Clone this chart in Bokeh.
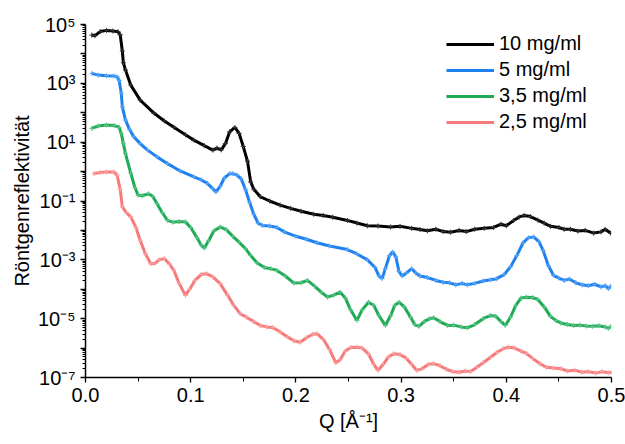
import numpy as np
from bokeh.plotting import figure
from bokeh.models import (FixedTicker, CustomJSTickFormatter, Legend, LegendItem,
                          Range1d, ColumnDataSource)
from bokeh.embed import file_html
from bokeh.resources import INLINE

# ---------------- data (Q in 1/Angstrom, reflectivity as log10) ----------------
q_10 = [0.006, 0.009, 0.014, 0.020, 0.026, 0.031, 0.033, 0.035, 0.036, 0.038, 0.043, 0.052,
        0.065, 0.075, 0.084, 0.095, 0.103, 0.113, 0.121, 0.125, 0.129, 0.133, 0.137, 0.142,
        0.146, 0.150, 0.154, 0.157, 0.160, 0.166, 0.175, 0.185, 0.195, 0.205, 0.217, 0.226,
        0.235, 0.249, 0.258, 0.268, 0.278, 0.290, 0.299, 0.310, 0.318, 0.325, 0.333, 0.340,
        0.347, 0.355, 0.362, 0.370, 0.379, 0.388, 0.395, 0.400, 0.407, 0.412, 0.417, 0.423,
        0.430, 0.436, 0.442, 0.450, 0.455, 0.461, 0.468, 0.475, 0.483, 0.490, 0.494, 0.499]
logr_10 = [4.64, 4.62, 4.76, 4.80, 4.78, 4.75, 4.65, 4.10, 3.70, 3.45, 2.94, 2.43,
           1.99, 1.72, 1.51, 1.25, 1.07, 0.88, 0.73, 0.80, 0.74, 0.95, 1.35, 1.50,
           1.30, 0.85, 0.35, -0.35, -0.60, -0.85, -1.00, -1.14, -1.25, -1.35, -1.45, -1.49,
           -1.55, -1.66, -1.75, -1.84, -1.85, -1.88, -1.86, -1.93, -1.97, -2.01, -1.96, -2.04,
           -2.06, -2.00, -2.04, -1.96, -1.93, -1.90, -1.79, -1.84, -1.66, -1.55, -1.49, -1.53,
           -1.65, -1.75, -1.86, -1.90, -1.96, -1.96, -2.02, -2.00, -2.09, -2.05, -1.96, -2.09]

q_5 = [0.006, 0.012, 0.020, 0.027, 0.030, 0.032, 0.034, 0.035, 0.038, 0.042, 0.046, 0.052,
       0.059, 0.068, 0.078, 0.090, 0.103, 0.110, 0.116, 0.121, 0.124, 0.128, 0.132, 0.137,
       0.140, 0.144, 0.148, 0.152, 0.156, 0.160, 0.164, 0.168, 0.175, 0.182, 0.189, 0.200,
       0.210, 0.220, 0.232, 0.249, 0.258, 0.268, 0.275, 0.279, 0.282, 0.285, 0.289, 0.292,
       0.295, 0.298, 0.301, 0.305, 0.310, 0.314, 0.318, 0.325, 0.333, 0.340, 0.346, 0.352,
       0.358, 0.363, 0.370, 0.378, 0.385, 0.391, 0.398, 0.404, 0.410, 0.416, 0.421, 0.426,
       0.431, 0.435, 0.440, 0.445, 0.450, 0.455, 0.460, 0.466, 0.472, 0.478, 0.484, 0.490,
       0.494, 0.497, 0.499]
logr_5 = [3.34, 3.28, 3.26, 3.25, 3.22, 3.10, 2.67, 2.20, 1.75, 1.42, 1.18, 0.95,
          0.73, 0.50, 0.27, 0.02, -0.18, -0.28, -0.41, -0.58, -0.69, -0.50, -0.22, -0.07,
          -0.07, -0.12, -0.25, -0.60, -1.05, -1.45, -1.75, -1.83, -1.85, -1.90, -2.05, -2.20,
          -2.30, -2.42, -2.53, -2.65, -2.80, -3.00, -3.25, -3.55, -3.64, -3.30, -2.85, -2.73,
          -2.90, -3.40, -3.55, -3.45, -3.30, -3.45, -3.55, -3.60, -3.70, -3.76, -3.78, -3.85,
          -3.80, -3.85, -3.80, -3.72, -3.68, -3.64, -3.50, -3.24, -2.85, -2.42, -2.25, -2.22,
          -2.38, -2.68, -3.20, -3.53, -3.62, -3.70, -3.65, -3.78, -3.85, -3.88, -3.83, -3.92,
          -3.88, -3.98, -3.90]

q_35 = [0.006, 0.012, 0.020, 0.027, 0.032, 0.034, 0.036, 0.038, 0.043, 0.047, 0.050, 0.054,
        0.060, 0.064, 0.068, 0.073, 0.078, 0.083, 0.089, 0.095, 0.100, 0.106, 0.110, 0.113,
        0.117, 0.122, 0.128, 0.134, 0.140, 0.146, 0.152, 0.157, 0.163, 0.170, 0.176, 0.182,
        0.190, 0.198, 0.205, 0.211, 0.218, 0.224, 0.230, 0.236, 0.242, 0.247, 0.252, 0.258,
        0.263, 0.269, 0.274, 0.279, 0.285, 0.290, 0.294, 0.298, 0.303, 0.309, 0.313, 0.317,
        0.322, 0.327, 0.331, 0.337, 0.344, 0.350, 0.357, 0.363, 0.370, 0.378, 0.385, 0.390,
        0.395, 0.399, 0.404, 0.409, 0.414, 0.419, 0.425, 0.430, 0.436, 0.442, 0.447, 0.452,
        0.458, 0.464, 0.470, 0.476, 0.482, 0.488, 0.494, 0.497, 0.499]
logr_35 = [1.47, 1.55, 1.58, 1.57, 1.50, 1.30, 0.95, 0.61, -0.05, -0.55, -0.80, -0.82,
           -0.75, -0.85, -1.09, -1.40, -1.66, -1.72, -1.70, -1.71, -1.90, -2.25, -2.50, -2.60,
           -2.35, -2.02, -1.88, -1.98, -2.20, -2.40, -2.62, -2.85, -3.10, -3.26, -3.30, -3.36,
           -3.55, -3.79, -3.78, -3.70, -3.90, -4.10, -4.27, -4.20, -4.10, -4.30, -4.70, -5.06,
           -4.70, -4.44, -4.55, -4.90, -5.23, -4.90, -4.55, -4.44, -4.60, -4.95, -5.20, -5.26,
           -5.10, -5.00, -4.97, -5.10, -5.23, -5.22, -5.28, -5.31, -5.20, -5.00, -4.89, -4.92,
           -5.10, -5.23, -4.95, -4.55, -4.30, -4.27, -4.28, -4.35, -4.60, -4.92, -5.06, -5.15,
           -5.20, -5.23, -5.22, -5.25, -5.26, -5.24, -5.28, -5.33, -5.27]

q_25 = [0.008, 0.014, 0.020, 0.027, 0.030, 0.033, 0.035, 0.039, 0.043, 0.048, 0.052, 0.057,
        0.062, 0.066, 0.070, 0.075, 0.080, 0.084, 0.089, 0.095, 0.099, 0.104, 0.110, 0.115,
        0.121, 0.128, 0.135, 0.141, 0.147, 0.153, 0.160, 0.166, 0.172, 0.178, 0.185, 0.192,
        0.198, 0.204, 0.210, 0.216, 0.220, 0.226, 0.232, 0.238, 0.242, 0.247, 0.252, 0.258,
        0.263, 0.269, 0.274, 0.278, 0.283, 0.288, 0.293, 0.299, 0.305, 0.310, 0.315, 0.320,
        0.326, 0.331, 0.337, 0.343, 0.349, 0.355, 0.361, 0.366, 0.372, 0.378, 0.385, 0.391,
        0.397, 0.402, 0.408, 0.414, 0.419, 0.425, 0.432, 0.438, 0.445, 0.452, 0.458, 0.465,
        0.472, 0.478, 0.485, 0.491, 0.497, 0.500]
logr_25 = [-0.07, -0.03, -0.01, -0.01, -0.12, -0.60, -1.20, -1.40, -1.54, -1.90, -2.34, -2.80,
           -3.13, -3.12, -3.00, -2.96, -3.15, -3.36, -3.80, -4.21, -4.00, -3.70, -3.50, -3.47,
           -3.58, -3.81, -4.20, -4.55, -4.83, -4.95, -5.10, -5.23, -5.28, -5.30, -5.45, -5.62,
           -5.75, -5.80, -5.65, -5.53, -5.51, -5.70, -6.05, -6.50, -6.40, -6.10, -5.98, -5.97,
           -6.00, -6.20, -6.55, -6.76, -6.55, -6.30, -6.19, -6.22, -6.35, -6.55, -6.76, -6.70,
           -6.55, -6.53, -6.60, -6.72, -6.80, -6.82, -6.78, -6.80, -6.65, -6.50, -6.31, -6.15,
           -6.02, -5.97, -6.00, -6.10, -6.18, -6.35, -6.53, -6.65, -6.68, -6.70, -6.78, -6.75,
           -6.82, -6.80, -6.85, -6.80, -6.84, -6.82]

labels = ["10 mg/ml", "5 mg/ml", "3,5 mg/ml", "2,5 mg/ml"]
colors = ["#000000", "#1f80f0", "#1faa55", "#f77a7a"]
marker_colors = ["#333333", "#5aa6f5", "#5cc488", "#f9a0a0"]

x_ticks = [0.0, 0.1, 0.2, 0.3, 0.4, 0.5]
x_minor = [0.05, 0.15, 0.25, 0.35, 0.45]
y_decades = list(range(-7, 6))

series = [(q_10, logr_10), (q_5, logr_5), (q_35, logr_35), (q_25, logr_25)]

FONT = "Liberation Sans"

p = figure(width=625, height=444, y_axis_type="log",
           x_range=Range1d(0.0, 0.5), y_range=Range1d(1e-7, 1e5),
           output_backend="svg", toolbar_location=None,
           min_border_left=85, min_border_right=14, min_border_top=24, min_border_bottom=67)
p.outline_line_color = None
p.xgrid.grid_line_color = None
p.ygrid.grid_line_color = None
p.background_fill_color = "white"
p.border_fill_color = "white"

items = []
for (qq, lr), lab, col, mcol in zip(series, labels, colors, marker_colors):
    src = ColumnDataSource(dict(q=qq, r=list(10.0 ** np.array(lr))))
    r = p.line("q", "r", source=src, line_color=col, line_width=3)
    p.scatter("q", "r", source=src, marker="cross", size=5, line_color=mcol, line_width=1)
    items.append(LegendItem(label=lab, renderers=[r]))

# axes
xa = p.xaxis[0]
xa.ticker = FixedTicker(ticks=x_ticks, minor_ticks=x_minor)
xa.formatter = CustomJSTickFormatter(code="return tick.toFixed(1);")
ya = p.yaxis[0]
ya.ticker = FixedTicker(ticks=[10.0 ** e for e in y_decades],
                        minor_ticks=[k * 10.0 ** e for e in y_decades[:-1] for k in range(2, 10)])
ya.formatter = CustomJSTickFormatter(code="""
const sup = {"0":"\u2070","1":"\u00b9","2":"\u00b2","3":"\u00b3","4":"\u2074","5":"\u2075",
             "6":"\u2076","7":"\u2077","8":"\u2078","9":"\u2079","-":"\u207b"};
const e = Math.round(Math.log10(tick));
if (Math.abs(e) % 2 == 0) return "";
return "10" + String(e).split("").map(c => sup[c]).join("");
""")

for ax in (xa, ya):
    ax.axis_line_color = "black"
    ax.axis_line_width = 1.5
    ax.major_tick_line_color = "black"
    ax.minor_tick_line_color = "black"
    ax.major_tick_line_width = 1.3
    ax.minor_tick_line_width = 1
    ax.major_tick_in = 0
    ax.minor_tick_in = 0
    ax.major_label_text_font = FONT
    ax.major_label_text_font_size = "20px"
    ax.major_label_text_color = "black"
    ax.axis_label_text_font = FONT
    ax.axis_label_text_font_size = "20px"
    ax.axis_label_text_font_style = "normal"
    ax.axis_label_text_color = "black"

xa.major_tick_out = 5
xa.minor_tick_out = 4
ya.major_tick_out = 5
ya.minor_tick_out = 3
xa.major_label_standoff = 5
ya.major_label_standoff = 5
xa.axis_label = "Q [Å\u207b\u00b9]"
ya.axis_label = "Röntgenreflektivität"
xa.axis_label_standoff = 5
ya.axis_label_standoff = 2

legend = Legend(items=items, location=(361, 244), padding=0, margin=0,
                border_line_color=None, background_fill_alpha=0,
                glyph_width=48, glyph_height=20, label_height=20, spacing=3,
                label_standoff=5, label_text_font=FONT, label_text_font_size="20px",
                label_text_color="black")
p.add_layout(legend)

open("out.html", "w").write(file_html(p, INLINE))
